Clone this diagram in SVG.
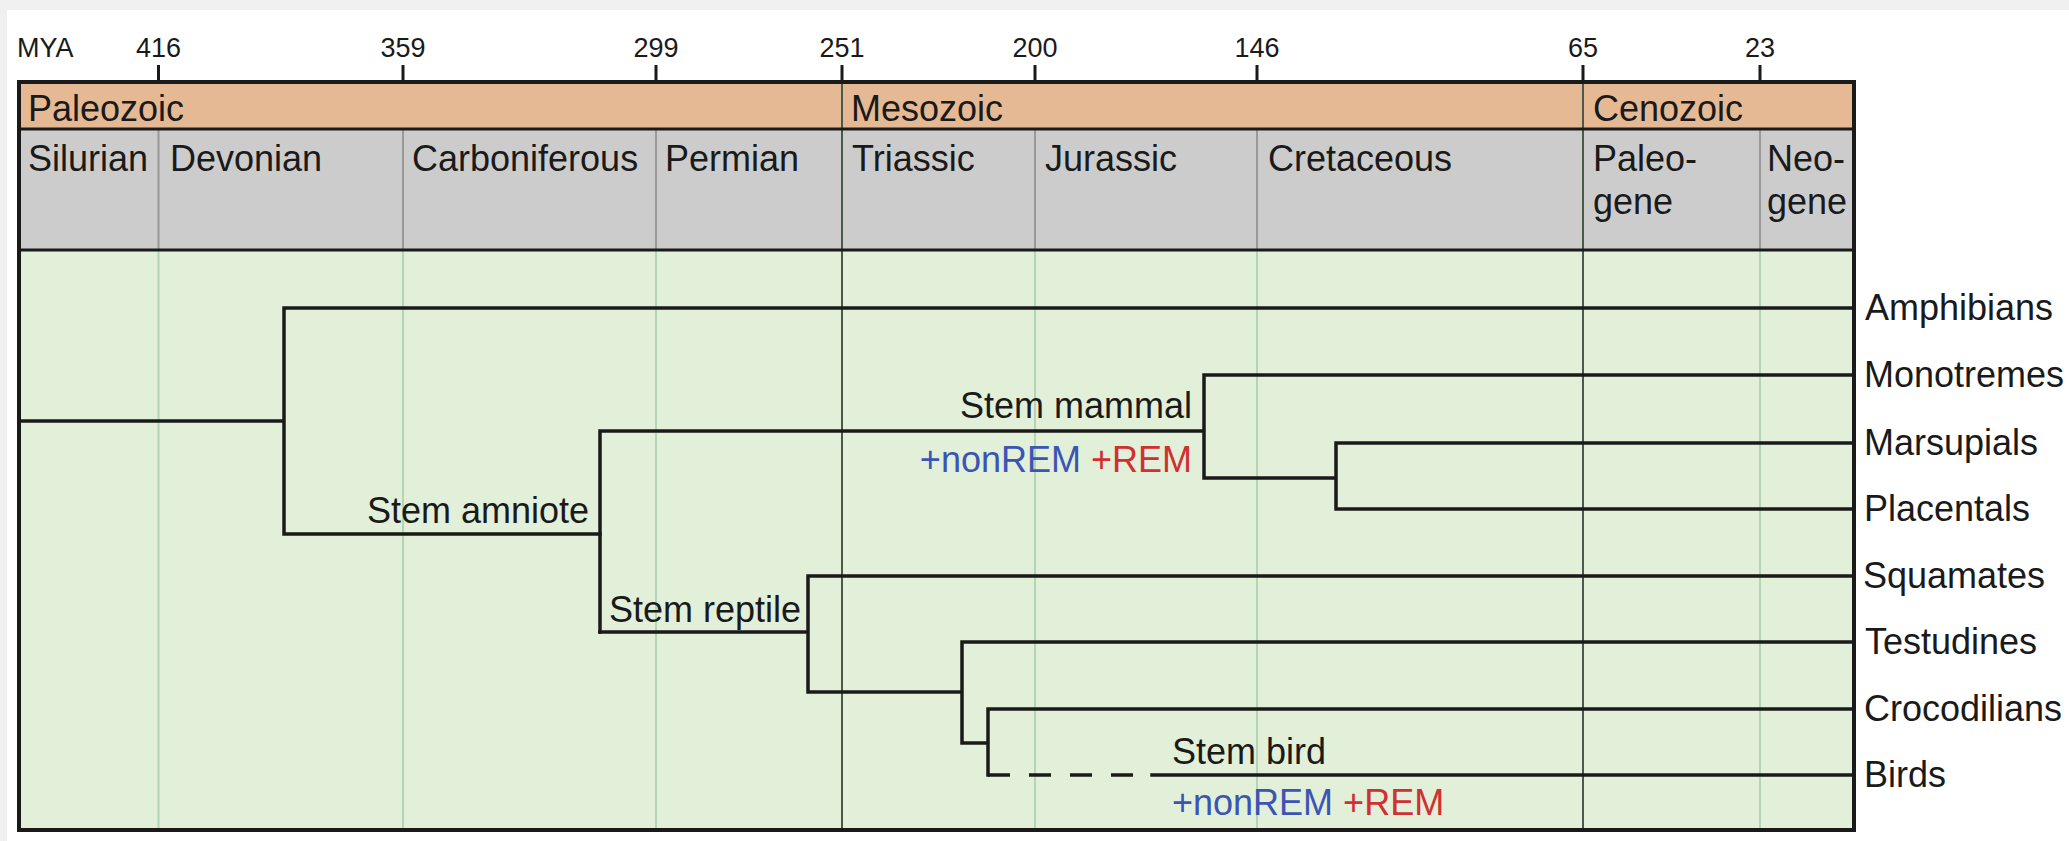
<svg xmlns="http://www.w3.org/2000/svg" width="2069" height="841" viewBox="0 0 2069 841">
<style>
text{font-family:"Liberation Sans",Arial,Helvetica,sans-serif;fill:#1a1a1a}
.t{font-size:27px;text-anchor:middle}
.lab{font-size:36px}
.end{text-anchor:end}
.br{stroke:#1a1a1a;stroke-width:3.5;fill:none;stroke-linecap:square}
.dash{stroke-dasharray:22 19;stroke-linecap:butt}
.gl{stroke:#b3d5b3;stroke-width:2}
.dl{stroke:#4a5a4a;stroke-width:2}
.pl{stroke:#999999;stroke-width:2}
.tick{stroke:#1a1a1a;stroke-width:3}
.blue{fill:#3a55b5}
.red{fill:#d03030}
</style>
<rect x="0" y="0" width="2069" height="841" fill="#f0f0f0"/>
<rect x="7" y="10" width="2062" height="831" fill="#ffffff"/>
<g id="timescale">
<rect x="19" y="82" width="1835" height="47" fill="#e4b994"/>
<rect x="19" y="129" width="1835" height="121" fill="#cccccc"/>
<rect x="19" y="250" width="1835" height="580" fill="#e2efd9"/>
<g class="pl">
<line x1="158.5" y1="129" x2="158.5" y2="250"/>
<line x1="403" y1="129" x2="403" y2="250"/>
<line x1="656" y1="129" x2="656" y2="250"/>
<line x1="1035" y1="129" x2="1035" y2="250"/>
<line x1="1257" y1="129" x2="1257" y2="250"/>
<line x1="1760" y1="129" x2="1760" y2="250"/>
</g>
<g class="gl">
<line x1="158.5" y1="250" x2="158.5" y2="830"/>
<line x1="403" y1="250" x2="403" y2="830"/>
<line x1="656" y1="250" x2="656" y2="830"/>
<line x1="1035" y1="250" x2="1035" y2="830"/>
<line x1="1257" y1="250" x2="1257" y2="830"/>
<line x1="1760" y1="250" x2="1760" y2="830"/>
</g>
<g class="dl">
<line x1="842" y1="82" x2="842" y2="830"/>
<line x1="1583" y1="82" x2="1583" y2="830"/>
</g>
<g class="tick">
<line x1="158.5" y1="65" x2="158.5" y2="82"/>
<line x1="403" y1="65" x2="403" y2="82"/>
<line x1="656" y1="65" x2="656" y2="82"/>
<line x1="842" y1="65" x2="842" y2="82"/>
<line x1="1035" y1="65" x2="1035" y2="82"/>
<line x1="1257" y1="65" x2="1257" y2="82"/>
<line x1="1583" y1="65" x2="1583" y2="82"/>
<line x1="1760" y1="65" x2="1760" y2="82"/>
</g>
<line x1="19" y1="129" x2="1854" y2="129" stroke="#1a1a1a" stroke-width="3"/>
<line x1="19" y1="250" x2="1854" y2="250" stroke="#1a1a1a" stroke-width="3"/>
<rect x="19" y="82" width="1835" height="748" fill="none" stroke="#1a1a1a" stroke-width="4"/>
<text x="17" y="57" style="font-size:27px">MYA</text>
<text class="t" x="158.5" y="57">416</text>
<text class="t" x="403" y="57">359</text>
<text class="t" x="656" y="57">299</text>
<text class="t" x="842" y="57">251</text>
<text class="t" x="1035" y="57">200</text>
<text class="t" x="1257" y="57">146</text>
<text class="t" x="1583" y="57">65</text>
<text class="t" x="1760" y="57">23</text>
<text class="lab" x="28" y="121">Paleozoic</text>
<text class="lab" x="851" y="121">Mesozoic</text>
<text class="lab" x="1593" y="121">Cenozoic</text>
<text class="lab" x="28" y="171">Silurian</text>
<text class="lab" x="170" y="171">Devonian</text>
<text class="lab" x="412" y="171">Carboniferous</text>
<text class="lab" x="665" y="171">Permian</text>
<text class="lab" x="852" y="171">Triassic</text>
<text class="lab" x="1045" y="171">Jurassic</text>
<text class="lab" x="1268" y="171">Cretaceous</text>
<text class="lab" x="1593" y="171">Paleo-</text>
<text class="lab" x="1593" y="214">gene</text>
<text class="lab" x="1767" y="171">Neo-</text>
<text class="lab" x="1767" y="214">gene</text>
</g>
<g id="connectors" class="br">
<path d="M19 421H284M284 308V534M284 308H1854M284 534H600"/>
<path d="M600 431V632M600 431H1204M1204 375V478M1204 375H1854M1204 478H1336M1336 443V509M1336 443H1854M1336 509H1854"/>
<path d="M600 632H808M808 576V692M808 576H1854M808 692H962M962 642V743M962 642H1854M962 743H988M988 709V775M988 709H1854"/>
<path class="dash" d="M988 775H1152"/>
<path d="M1152 775H1854"/>
</g>
<g id="node-amphibians"><text class="lab" x="1865" y="320">Amphibians</text></g>
<g id="node-monotremes"><text class="lab" x="1864" y="387">Monotremes</text></g>
<g id="node-marsupials"><text class="lab" x="1864" y="455">Marsupials</text></g>
<g id="node-placentals"><text class="lab" x="1864" y="521">Placentals</text></g>
<g id="node-squamates"><text class="lab" x="1863" y="588">Squamates</text></g>
<g id="node-testudines"><text class="lab" x="1865" y="654">Testudines</text></g>
<g id="node-crocodilians"><text class="lab" x="1864" y="721">Crocodilians</text></g>
<g id="node-birds"><text class="lab" x="1864" y="787">Birds</text></g>
<g id="node-stem-amniote"><text class="lab end" x="589" y="523">Stem amniote</text></g>
<g id="node-stem-mammal">
<text class="lab end" x="1192" y="418">Stem mammal</text>
<text class="lab end" x="1192" y="472"><tspan class="blue">+nonREM</tspan> <tspan class="red">+REM</tspan></text>
</g>
<g id="node-stem-reptile"><text class="lab end" x="801" y="622">Stem reptile</text></g>
<g id="node-stem-bird">
<text class="lab" x="1172" y="764">Stem bird</text>
<text class="lab" x="1172" y="815"><tspan class="blue">+nonREM</tspan> <tspan class="red">+REM</tspan></text>
</g>
</svg>
